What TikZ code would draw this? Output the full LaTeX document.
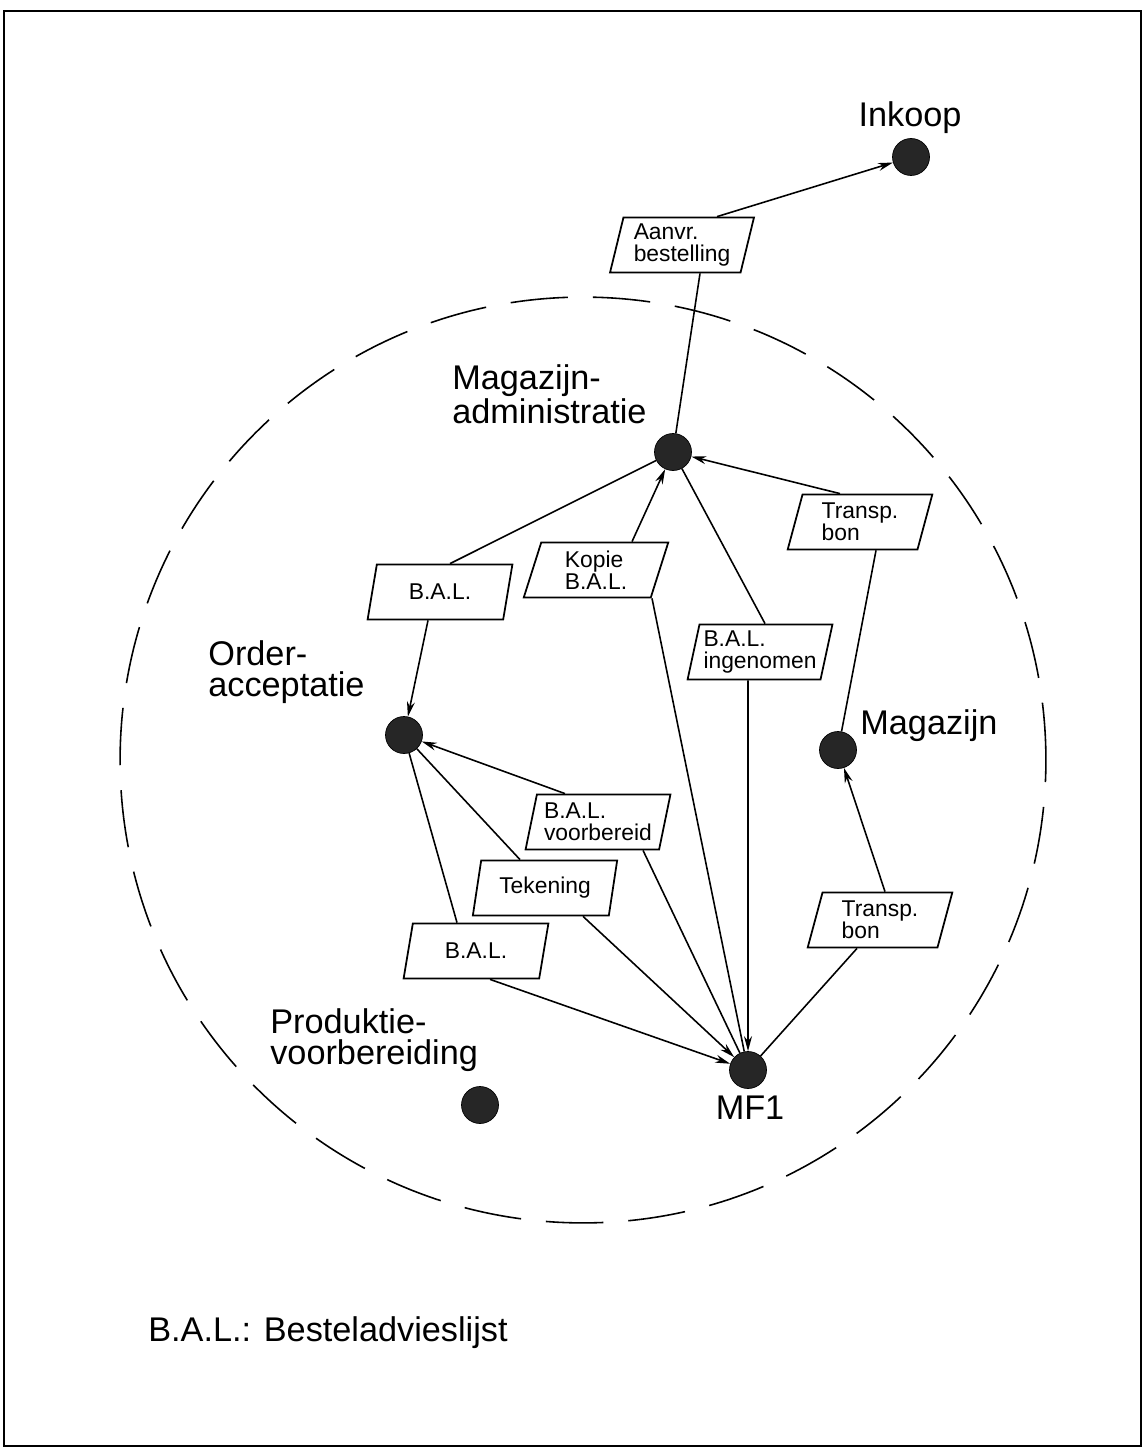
\documentclass[tikz,border=0pt]{standalone}
\usepackage{fontspec}
\setmainfont{Liberation Sans}
\usetikzlibrary{shapes.geometric, arrows.meta, positioning, calc}

\begin{document}
\begin{tikzpicture}[
    x=0.02cm, y=-0.02cm,
    place/.style={circle, draw=black, fill=black!85, minimum size=0.74cm, inner sep=0pt},
    doc/.style={trapezium, trapezium left angle=76, trapezium right angle=104, trapezium stretches=true, draw, line width=1pt, minimum width=2.9cm, minimum height=1.1cm, align=left, inner sep=1pt, font=\fontsize{13}{12.5}\selectfont},
    lbl/.style={align=left, inner sep=0pt, font=\fontsize{19.5}{18}\selectfont},
    arrow/.style={-{Stealth[length=3mm, width=1.6mm]}, line width=0.9pt},
    link/.style={line width=0.9pt}
]
    \useasboundingbox (0,0) rectangle (1144,1449);
    \draw[line width=1.1pt] (4,11) rectangle (1141,1446);

    % boundary
    \draw[line width=0.9pt, dash pattern=on 1.15cm off 0.5cm] (583,760) circle[radius=9.26cm];

    % places
    \node[place] (inkoop) at (911,157) {};
    \node[place] (madmin) at (673,452) {};
    \node[place] (magazijn) at (838,750) {};
    \node[place] (order) at (404,735) {};
    \node[place] (mf1) at (748,1070) {};
    \node[place] (prod) at (480,1105) {};

    \node[lbl] (inkooplbl) at (910,118) {Inkoop};
    \node[lbl, anchor=west] (madminlbl) at (452,394) {Magazijn-\\administratie};
    \node[lbl, anchor=west] (magazijnlbl) at (860,726) {Magazijn};
    \node[lbl, anchor=west] (orderlbl) at (208,672) {Order-\\acceptatie};
    \node[lbl, anchor=west] (prodlbl) at (270,1040) {Produktie-\\voorbereiding};
    \node[lbl] (mf1lbl) at (750,1108) {MF1};

    % documents
    \node[doc] (aanvr) at (682,245) {Aanvr.\\bestelling};
    \node[doc] (bal1) at (440,592) {B.A.L.};
    \node[doc] (kopie) at (596,570) {Kopie\\B.A.L.};
    \node[doc] (ingen) at (760,652) {B.A.L.\\ingenomen};
    \node[doc] (transp1) at (860,522) {Transp.\\bon};
    \node[doc] (voorb) at (598,822) {B.A.L.\\voorbereid};
    \node[doc] (teken) at (545,888) {Tekening};
    \node[doc] (bal2) at (476,951) {B.A.L.};
    \node[doc] (transp2) at (880,920) {Transp.\\bon};

    % flows
    \draw[link] (madmin) -- ($(aanvr.south)+(18,0)$);
    \draw[arrow] ($(aanvr.north)+(35,0)$) -- (inkoop);

    \draw[link] (madmin) -- ($(bal1.north)+(10,0)$);
    \draw[arrow] ($(bal1.south)+(-12,0)$) -- (order);

    \draw[link] (mf1) -- ($(kopie.south)+(56,0)$);
    \draw[arrow] ($(kopie.north)+(36,0)$) -- (madmin);

    \draw[link] (madmin) -- ($(ingen.north)+(5,0)$);
    \draw[arrow] ($(ingen.south)+(-12,0)$) -- (mf1);

    \draw[link] (magazijn) -- ($(transp1.south)+(16,0)$);
    \draw[arrow] ($(transp1.north)+(-20,0)$) -- (madmin);

    \draw[link] (mf1) -- ($(voorb.south)+(45,0)$);
    \draw[arrow] ($(voorb.north)+(-33,0)$) -- (order);

    \draw[link] (order) -- ($(teken.north)+(-25,0)$);
    \draw[arrow] ($(teken.south)+(38,0)$) -- (mf1);

    \draw[link] (order) -- ($(bal2.north)+(-19,0)$);
    \draw[arrow] ($(bal2.south)+(14,0)$) -- (mf1);

    \draw[link] (mf1) -- ($(transp2.south)+(-23,0)$);
    \draw[arrow] ($(transp2.north)+(5,0)$) -- (magazijn);

    \node[lbl, anchor=west] (legend) at (148,1333) {B.A.L.: Besteladvieslijst};
\end{tikzpicture}
\end{document}
